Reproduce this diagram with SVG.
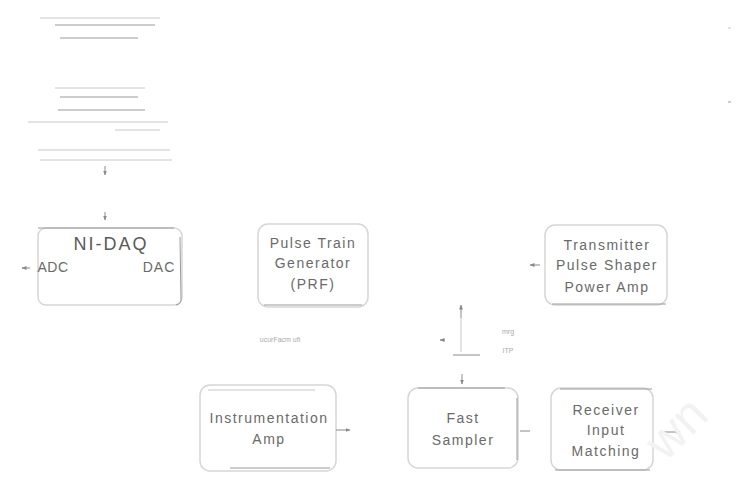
<svg xmlns="http://www.w3.org/2000/svg" width="736" height="479" viewBox="0 0 736 479">
<defs>
<marker id="ah" viewBox="0 0 10 10" refX="9" refY="5" markerWidth="5" markerHeight="5" orient="auto-start-reverse">
<path d="M0,1 L10,5 L0,9 z" fill="#8a8a8a"/>
</marker>
<style>
.box{fill:#ffffff;stroke:#d6d6d6;stroke-width:1.5}
.t{font-family:"Liberation Sans",Arial,sans-serif;font-size:14px;letter-spacing:1.5px;fill:#6a6a6a;text-anchor:middle}
.tl{font-family:"Liberation Sans",Arial,sans-serif;font-size:18px;letter-spacing:2px;fill:#5a5a5a;text-anchor:middle}
.tiny{font-family:"Liberation Sans",Arial,sans-serif;font-size:7px;fill:#aaa;text-anchor:middle}
.faint{stroke:#c8c8c8;stroke-width:1;fill:none}
.mid{stroke:#9a9a9a;stroke-width:1;fill:none}
.con{stroke:#8a8a8a;stroke-width:1;fill:none}
</style>
</defs>
<rect width="736" height="479" fill="#ffffff"/>

<g id="header-lines">
<line class="faint" x1="40" y1="18" x2="160" y2="18"/>
<line class="mid" x1="55" y1="25" x2="155" y2="25"/>
<line class="mid" x1="60" y1="38" x2="138" y2="38"/>
<line class="faint" x1="55" y1="88" x2="145" y2="88"/>
<line class="mid" x1="60" y1="97" x2="138" y2="97"/>
<line class="mid" x1="58" y1="110" x2="145" y2="110"/>
<line class="faint" x1="28" y1="122" x2="168" y2="122"/>
<line class="faint" x1="115" y1="130" x2="160" y2="130"/>
<line class="faint" x1="38" y1="150" x2="170" y2="150"/>
<line class="faint" x1="40" y1="160" x2="172" y2="160"/>
<line class="faint" x1="728" y1="28" x2="731" y2="28"/>
<line class="mid" x1="728" y1="102" x2="731" y2="102"/>
</g>

<g id="nidaq">
<rect class="box" x="38" y="228" width="144" height="77" rx="8"/>
<line class="mid" x1="38" y1="228" x2="174" y2="228"/>
<path class="mid" d="M180,237 L181,300 Q181,304 176,305"/>
<text class="tl" x="111" y="250">NI-DAQ</text>
<text class="t" x="53" y="272" style="letter-spacing:0.5px">ADC</text>
<text class="t" x="159" y="272" style="letter-spacing:1px">DAC</text>
</g>

<g id="pulse-train">
<rect class="box" x="258" y="224" width="110" height="83" rx="10"/>
<line class="mid" x1="264" y1="305" x2="362" y2="305"/>
<text class="t" x="313" y="248">Pulse Train</text>
<text class="t" x="313" y="268">Generator</text>
<text class="t" x="313" y="289">(PRF)</text>
</g>

<g id="transmitter">
<rect class="box" x="545" y="225" width="122" height="80" rx="10"/>
<line class="mid" x1="552" y1="304" x2="666" y2="304"/>
<text class="t" x="607" y="250">Transmitter</text>
<text class="t" x="607" y="270">Pulse Shaper</text>
<text class="t" x="607" y="292">Power Amp</text>
</g>

<g id="instrumentation-amp">
<rect class="box" x="200" y="385" width="136" height="86" rx="10"/>
<line class="faint" x1="208" y1="390" x2="315" y2="390"/>
<line class="mid" x1="230" y1="468" x2="330" y2="468"/>
<text class="t" x="269" y="423">Instrumentation</text>
<text class="t" x="269" y="444">Amp</text>
</g>

<g id="fast-sampler">
<rect class="box" x="408" y="388" width="110" height="80" rx="10"/>
<line class="mid" x1="418" y1="388" x2="505" y2="388"/>
<line class="mid" x1="517" y1="398" x2="517" y2="460"/>
<text class="t" x="463" y="423">Fast</text>
<text class="t" x="463" y="445">Sampler</text>
</g>

<g id="receiver">
<rect class="box" x="551" y="388" width="102" height="82" rx="10"/>
<line class="mid" x1="560" y1="389" x2="652" y2="389"/>
<line class="mid" x1="555" y1="470" x2="650" y2="470"/>
<text class="t" x="606" y="415">Receiver</text>
<text class="t" x="606" y="435">Input</text>
<text class="t" x="606" y="456">Matching</text>
</g>

<g id="connectors">
<line class="con" x1="105" y1="166" x2="105" y2="175" marker-end="url(#ah)"/>
<line class="con" x1="105" y1="212" x2="105" y2="220" marker-end="url(#ah)"/>
<line class="con" x1="30" y1="268" x2="22" y2="268" marker-end="url(#ah)"/>
<line class="con" x1="540" y1="265" x2="530" y2="265" marker-end="url(#ah)"/>
<line class="con" x1="461" y1="318" x2="461" y2="305" marker-end="url(#ah)"/>
<line class="faint" x1="461" y1="318" x2="461" y2="352"/>
<line class="con" x1="453" y1="355" x2="480" y2="355"/>
<line class="con" x1="445" y1="340" x2="440" y2="340" marker-end="url(#ah)"/>
<line class="con" x1="462" y1="374" x2="462" y2="384" marker-end="url(#ah)"/>
<line class="con" x1="336" y1="430" x2="350" y2="430" marker-end="url(#ah)"/>
<line class="con" x1="520" y1="431" x2="530" y2="431"/>
<line class="con" x1="664" y1="432" x2="680" y2="432" marker-end="url(#ah)"/>
<text class="tiny" x="508" y="334">mrg</text>
<text class="tiny" x="508" y="353">ITP</text>
<text class="tiny" x="280" y="342">ucurFacm ufi</text>
</g>

<text x="688" y="440" transform="rotate(-45 688 440)" font-family="Liberation Sans,Arial,sans-serif" font-size="50" fill="#f2f2f2" text-anchor="middle">wn</text>
</svg>
